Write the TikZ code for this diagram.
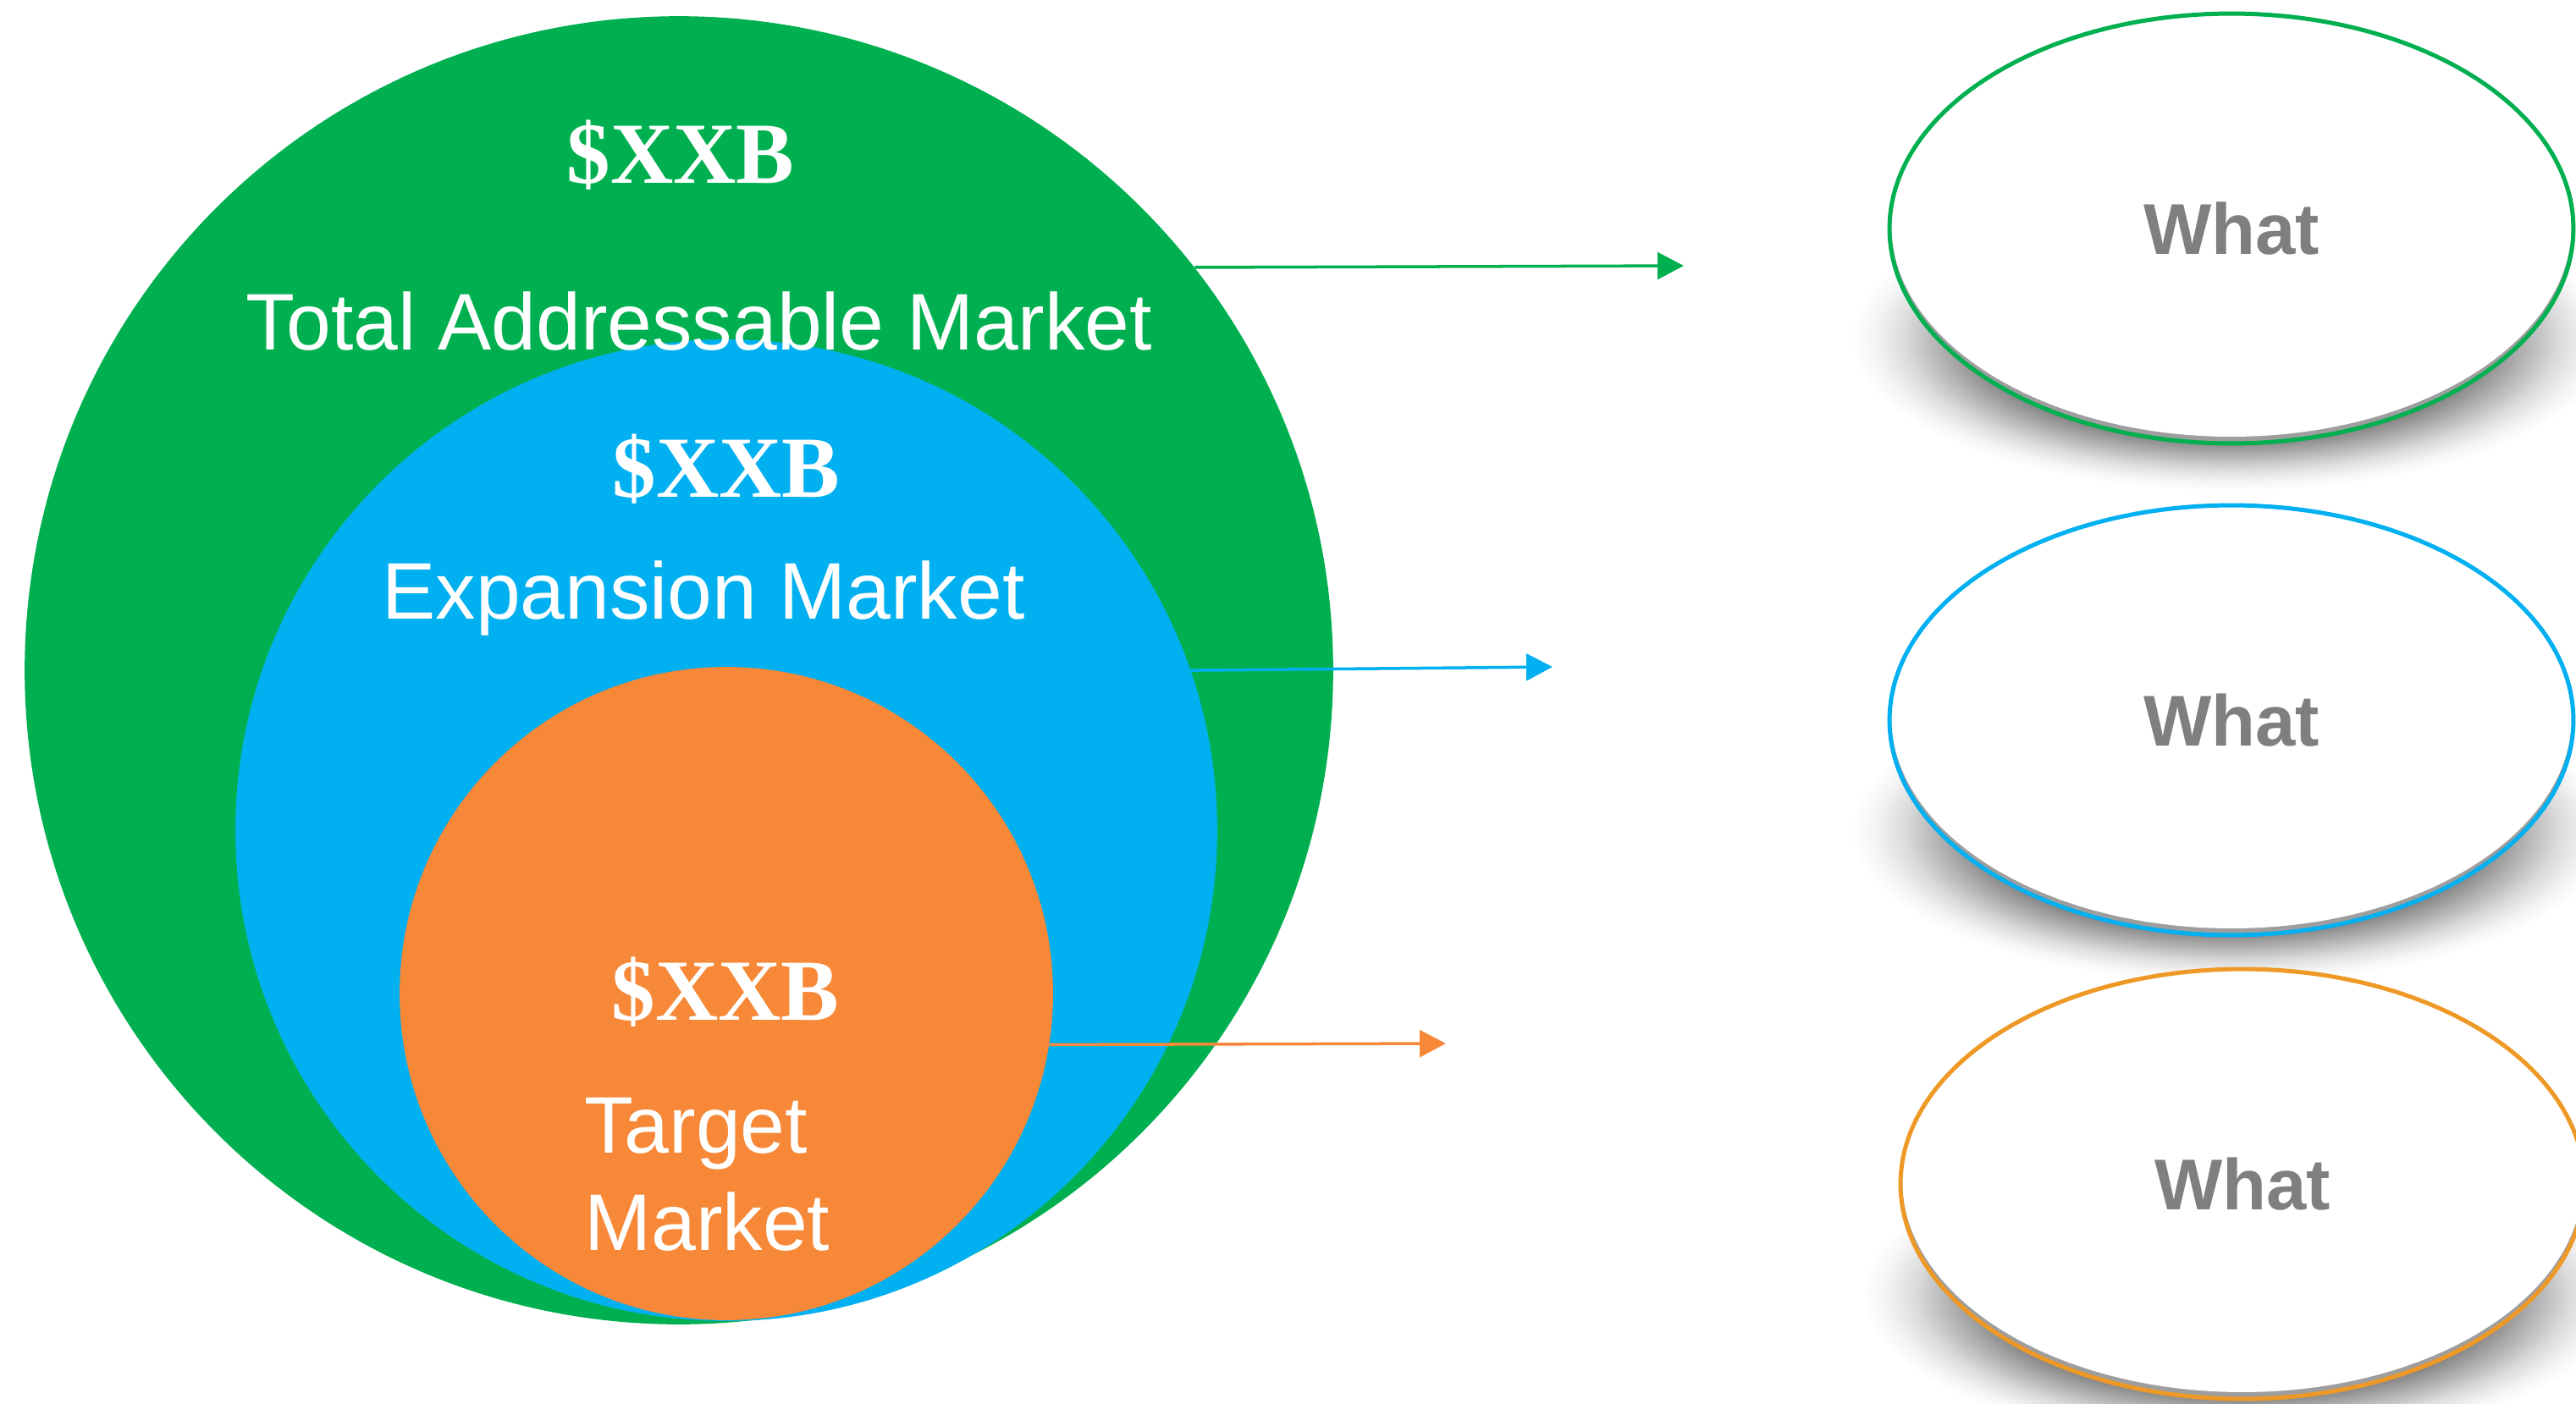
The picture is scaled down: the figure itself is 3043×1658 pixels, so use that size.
\documentclass[tikz,border=0pt]{standalone}
\usepackage{fontspec}
\setmainfont{Liberation Sans}
\newfontfamily\numfont{Liberation Serif}
\usetikzlibrary{shapes.geometric,arrows.meta}

\definecolor{tamgreen}{RGB}{0,176,80}
\definecolor{expblue}{RGB}{0,176,240}
\definecolor{tgtorange}{RGB}{246,136,56}
\definecolor{ringorange}{RGB}{238,153,38}
\definecolor{whatgray}{RGB}{127,127,127}

% soft shadow that fades into the white page
\pgfdeclareradialshading{softshadow}{\pgfpoint{0bp}{0bp}}{%
  color(0bp)=(black!50); color(17bp)=(black!47); color(19bp)=(black!32);
  color(21.5bp)=(black!14); color(23.5bp)=(black!4); color(25bp)=(white);
  color(50bp)=(white)}

\begin{document}
\begin{tikzpicture}[x=0.02cm, y=-0.02cm,
  market/.style={circle, inner sep=0pt, draw=none},
  numlabel/.style={anchor=base, inner sep=0pt, text=white,
    font={\fontsize{58.6pt}{62pt}\selectfont\numfont\bfseries}},
  marklabel/.style={anchor=base, inner sep=0pt, text=white,
    font={\fontsize{54pt}{60pt}\selectfont}},
  whatbox/.style={ellipse, inner sep=0pt, minimum width=16.16cm,
    minimum height=10.16cm, fill=black!38, draw=none,
    text=whatgray, font={\fontsize{48.4pt}{52pt}\selectfont\bfseries},
    path picture={\fill[white] ([yshift=0.08cm]path picture bounding box.center)
      ellipse [x radius=8.04cm, y radius=5cm];}},
  rim/.style={line width=2.85pt},
  pointer/.style={line width=2pt, -{Triangle[length=17.6pt, width=18pt]}}
]
\useasboundingbox (0,0) rectangle (3043,1658);
\fill[white] (0,0) rectangle (3043,1658);

% nested market circles
\node[market, fill=tamgreen, minimum size=30.92cm] (tam) at (802,792) {};
\node[market, fill=expblue, minimum size=23.2cm] (exp) at (858,981) {};
\node[market, fill=tgtorange, minimum size=15.44cm] (tgt) at (858,1174) {};

% labels inside the circles
\node[numlabel] (tamval) at (804,216) {\$XXB};
\node[marklabel] (tamname) at (826,413) {Total Addressable Market};
\node[numlabel] (expval) at (858,587) {\$XXB};
\node[marklabel] (expname) at (831,731) {Expansion Market};
\node[numlabel] (tgtval) at (857,1205) {\$XXB};
\node[marklabel, anchor=base west] (tgtname1) at (690,1362) {Target};
\node[marklabel, anchor=base west] (tgtname2) at (690,1477) {Market};

% shadows under the description ellipses
\shade[shading=softshadow] (2636,400) ellipse [x radius=9cm, y radius=3.6cm];
\shade[shading=softshadow] (2636,981) ellipse [x radius=9cm, y radius=3.6cm];
\shade[shading=softshadow] (2649,1529) ellipse [x radius=9cm, y radius=3.6cm];

% description ellipses with their coloured rims
\node[whatbox] (w1) at (2636,270) {What};
\draw[rim, tamgreen] (w1.center) ellipse [x radius=8.08cm, y radius=5.08cm];
\node[whatbox] (w2) at (2636,851) {What};
\draw[rim, expblue] (w2.center) ellipse [x radius=8.08cm, y radius=5.08cm];
\node[whatbox] (w3) at (2649,1399) {What};
\draw[rim, ringorange] (w3.center) ellipse [x radius=8.08cm, y radius=5.08cm];

% connectors
\coordinate (gend) at (1989,314);
\coordinate (bend) at (1834,788);
\coordinate (oend) at (1708,1233);
\draw[pointer, tamgreen] (tam.38.5) -- (gend);
\draw[pointer, expblue] (exp.19.2) -- (bend);
\draw[pointer, tgtorange] (tgt.-9.85) -- (oend);
\end{tikzpicture}
\end{document}
